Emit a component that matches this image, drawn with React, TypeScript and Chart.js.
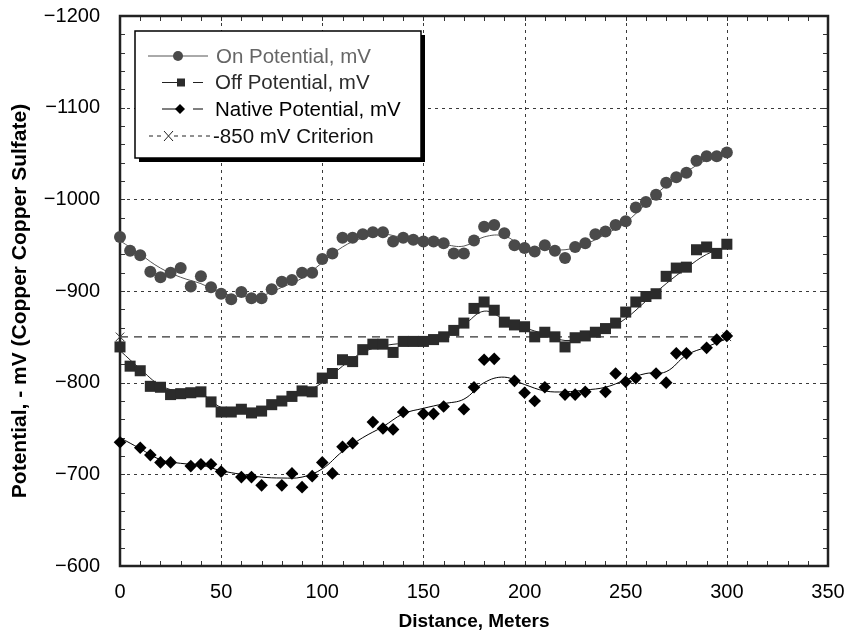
import React, { useEffect, useRef } from 'react';
import { Chart, registerables } from 'chart.js';

Chart.register(...registerables);

// ---------- data ----------
const distances = [0, 5, 10, 15, 20, 25, 30, 35, 40, 45, 50, 55, 60, 65, 70, 75, 80, 85, 90, 95, 100, 105, 110, 115, 120, 125, 130, 135, 140, 145, 150, 155, 160, 165, 170, 175, 180, 185, 190, 195, 200, 205, 210, 215, 220, 225, 230, 235, 240, 245, 250, 255, 260, 265, 270, 275, 280, 285, 290, 295, 300];

const onPotential = [-959, -944, -939, -921, -915, -920, -925, -905, -916, -904, -897, -891, -899, -892, -892, -902, -910, -912, -920, -920, -935, -941, -958, -958, -962, -964, -964, -954, -958, -956, -954, -954, -952, -941, -941, -955, -970, -972, -963, -950, -947, -943, -950, -944, -936, -948, -952, -962, -965, -972, -976, -991, -997, -1005, -1018, -1024, -1029, -1042, -1047, -1047, -1051];

const offPotential = [-839, -818, -813, -796, -795, -787, -788, -789, -790, -779, -768, -768, -771, -767, -769, -776, -780, -785, -791, -790, -805, -810, -825, -823, -836, -842, -842, -833, -845, -845, -845, -847, -850, -857, -865, -881, -888, -879, -866, -863, -861, -850, -855, -850, -839, -849, -851, -855, -859, -865, -877, -888, -894, -897, -916, -925, -926, -945, -948, -941, -951];

const nativeDistances = [0, 10, 15, 20, 25, 35, 40, 45, 50, 60, 65, 70, 80, 85, 90, 95, 100, 105, 110, 115, 125, 130, 135, 140, 150, 155, 160, 170, 175, 180, 185, 195, 200, 205, 210, 220, 225, 230, 240, 245, 250, 255, 265, 270, 275, 280, 290, 295, 300];
const nativePotential = [-735, -729, -721, -713, -713, -709, -711, -711, -703, -697, -697, -688, -688, -701, -686, -698, -713, -701, -730, -734, -757, -750, -749, -768, -766, -766, -774, -771, -795, -825, -826, -802, -789, -780, -795, -787, -787, -790, -790, -810, -801, -805, -810, -800, -832, -832, -838, -847, -851];

const trendDistances = [0, 10, 20, 30, 40, 50, 60, 70, 80, 90, 100, 110, 120, 130, 140, 150, 160, 170, 180, 190, 200, 210, 220, 230, 240, 250, 260, 270, 280, 290, 300];
const onTrend = [-955, -940, -925, -915, -908, -898, -894, -895, -904, -914, -931, -948, -958, -962, -958, -955, -951, -949, -959, -960, -948, -946, -945, -951, -962, -975, -995, -1015, -1030, -1043, -1050];
const offTrend = [-835, -815, -797, -790, -788, -773, -770, -769, -779, -788, -800, -818, -833, -840, -843, -845, -850, -863, -878, -869, -860, -853, -846, -850, -857, -870, -889, -908, -925, -940, -948];
const nativeTrend = [-740, -728, -716, -712, -710, -704, -700, -697, -696, -697, -706, -725, -740, -752, -766, -772, -777, -782, -800, -806, -798, -791, -790, -792, -795, -803, -810, -812, -830, -839, -848];

const criterionDistances = [0, 300];
const criterionPotential = [-850, -850];

const xTickValues = [0, 50, 100, 150, 200, 250, 300, 350];
const yTickValues = [-1200, -1100, -1000, -900, -800, -700, -600];

const legendLabels = ['On Potential, mV', 'Off Potential, mV', 'Native Potential, mV', '-850 mV Criterion'];
const xTitle = 'Distance, Meters';
const yTitle = 'Potential, - mV (Copper Copper Sulfate)';

const FONT = '"Liberation Sans", Arial, Helvetica, sans-serif';

const pairs = (xs: number[], ys: number[]) => xs.map((x, i) => ({ x, y: ys[i] }));

const framePlugin = {
  id: 'frameAndGrid',
  beforeDatasetsDraw(chart: any) {
    const { ctx, chartArea: a, scales } = chart;
    const xs = scales.x;
    const ys = scales.y;
    ctx.save();
    // dotted grid
    ctx.strokeStyle = '#3a3a3a';
    ctx.lineWidth = 1;
    ctx.setLineDash([3, 4]);
    xTickValues.slice(1, -1).forEach((v) => {
      const px = Math.round(xs.getPixelForValue(v)) + 0.5;
      ctx.beginPath();
      ctx.moveTo(px, a.top);
      ctx.lineTo(px, a.bottom);
      ctx.stroke();
    });
    yTickValues.slice(1, -1).forEach((v) => {
      const py = Math.round(ys.getPixelForValue(v)) + 0.5;
      ctx.beginPath();
      ctx.moveTo(a.left, py);
      ctx.lineTo(a.right, py);
      ctx.stroke();
    });
    ctx.setLineDash([]);
    // minor ticks
    ctx.strokeStyle = '#333';
    for (let v = 10; v < 350; v += 10) {
      const px = Math.round(xs.getPixelForValue(v)) + 0.5;
      ctx.beginPath();
      ctx.moveTo(px, a.bottom);
      ctx.lineTo(px, a.bottom - 5);
      ctx.moveTo(px, a.top);
      ctx.lineTo(px, a.top + 5);
      ctx.stroke();
    }
    for (let v = -1180; v < -600; v += 20) {
      const py = Math.round(ys.getPixelForValue(v)) + 0.5;
      ctx.beginPath();
      ctx.moveTo(a.left, py);
      ctx.lineTo(a.left + 5, py);
      ctx.moveTo(a.right, py);
      ctx.lineTo(a.right - 5, py);
      ctx.stroke();
    }
    // frame
    ctx.strokeStyle = '#222';
    ctx.lineWidth = 2.5;
    ctx.strokeRect(a.left, a.top, a.right - a.left, a.bottom - a.top);
    ctx.restore();
  },
};

const legendPlugin = {
  id: 'customLegend',
  afterDraw(chart: any) {
    const { ctx } = chart;
    // y axis title
    ctx.save();
    ctx.translate(20, 301);
    ctx.rotate(-Math.PI / 2);
    ctx.font = `bold 21px ${FONT}`;
    ctx.fillStyle = '#000';
    ctx.textAlign = 'center';
    ctx.textBaseline = 'middle';
    ctx.fillText(yTitle, 0, 0);
    ctx.restore();

    const bx = 135, by = 31, bw = 286, bh = 127;
    ctx.save();
    ctx.fillStyle = '#000';
    ctx.fillRect(bx + 4, by + 4, bw, bh);
    ctx.fillStyle = '#fff';
    ctx.fillRect(bx, by, bw, bh);
    ctx.strokeStyle = '#000';
    ctx.lineWidth = 1.5;
    ctx.strokeRect(bx, by, bw, bh);

    const rows = [56, 82.5, 109, 136];
    const colors = ['#666', '#2b2b2b', '#000', '#111'];
    ctx.font = `20.5px ${FONT}`;
    ctx.textBaseline = 'middle';
    ctx.textAlign = 'left';
    legendLabels.forEach((t, i) => {
      ctx.fillStyle = colors[i];
      ctx.fillText(t, i === 0 ? 216 : i === 3 ? 213 : 215, rows[i] + 1);
    });

    ctx.lineWidth = 1;
    // On
    let y = rows[0];
    ctx.strokeStyle = '#555';
    ctx.beginPath(); ctx.moveTo(148, y); ctx.lineTo(208, y); ctx.stroke();
    ctx.fillStyle = '#4a4a4a';
    ctx.beginPath(); ctx.arc(178, y, 5, 0, Math.PI * 2); ctx.fill();
    // Off
    y = rows[1];
    ctx.strokeStyle = '#222';
    ctx.beginPath(); ctx.moveTo(162, y); ctx.lineTo(177, y); ctx.moveTo(193, y); ctx.lineTo(203, y); ctx.stroke();
    ctx.fillStyle = '#2b2b2b';
    ctx.fillRect(177, y - 4, 8, 8);
    // Native
    y = rows[2];
    ctx.strokeStyle = '#000';
    ctx.beginPath(); ctx.moveTo(162, y); ctx.lineTo(176, y); ctx.moveTo(193, y); ctx.lineTo(203, y); ctx.stroke();
    ctx.fillStyle = '#000';
    ctx.beginPath(); ctx.moveTo(180, y - 5); ctx.lineTo(185, y); ctx.lineTo(180, y + 5); ctx.lineTo(175, y); ctx.closePath(); ctx.fill();
    // Criterion
    y = rows[3];
    ctx.strokeStyle = '#222';
    ctx.setLineDash([4, 4]);
    ctx.beginPath(); ctx.moveTo(149, y); ctx.lineTo(163, y); ctx.moveTo(174, y); ctx.lineTo(210, y); ctx.stroke();
    ctx.setLineDash([]);
    ctx.beginPath();
    ctx.moveTo(164, y - 5); ctx.lineTo(173, y + 5);
    ctx.moveTo(173, y - 5); ctx.lineTo(164, y + 5);
    ctx.stroke();
    ctx.restore();
  },
};

export default function App() {
  const canvasRef = useRef<HTMLCanvasElement | null>(null);

  useEffect(() => {
    if (!canvasRef.current) return;
    const chart = new Chart(canvasRef.current, {
      type: 'scatter',
      data: {
        datasets: [
          {
            label: 'On trend',
            data: pairs(trendDistances, onTrend),
            showLine: true,
            pointRadius: 0,
            borderColor: '#555',
            borderWidth: 1,
            tension: 0.4,
            order: 8,
          },
          {
            label: 'Off trend',
            data: pairs(trendDistances, offTrend),
            showLine: true,
            pointRadius: 0,
            borderColor: '#222',
            borderWidth: 1,
            tension: 0.4,
            order: 7,
          },
          {
            label: 'Native trend',
            data: pairs(trendDistances, nativeTrend),
            showLine: true,
            pointRadius: 0,
            borderColor: '#000',
            borderWidth: 1,
            tension: 0.4,
            order: 6,
          },
          {
            label: legendLabels[3],
            data: pairs(criterionDistances, criterionPotential),
            showLine: true,
            borderColor: '#333',
            borderWidth: 1.3,
            borderDash: [8, 6],
            pointStyle: 'crossRot',
            pointRadius: 6,
            pointBorderColor: '#333',
            pointBorderWidth: 1,
            order: 5,
            clip: false,
          },
          {
            label: legendLabels[0],
            data: pairs(distances, onPotential),
            showLine: false,
            pointStyle: 'circle',
            pointRadius: 6,
            pointBackgroundColor: '#4a4a4a',
            pointBorderColor: '#4a4a4a',
            pointBorderWidth: 0,
            order: 3,
            clip: false,
          },
          {
            label: legendLabels[1],
            data: pairs(distances, offPotential),
            showLine: false,
            pointStyle: 'rect',
            pointRadius: 7.8,
            pointBackgroundColor: '#2b2b2b',
            pointBorderColor: '#2b2b2b',
            pointBorderWidth: 0,
            order: 2,
            clip: false,
          },
          {
            label: legendLabels[2],
            data: pairs(nativeDistances, nativePotential),
            showLine: false,
            pointStyle: 'rectRot',
            pointRadius: 6.3,
            pointBackgroundColor: '#000',
            pointBorderColor: '#000',
            pointBorderWidth: 0,
            order: 1,
            clip: false,
          },
        ],
      },
      options: {
        animation: false,
        responsive: true,
        maintainAspectRatio: false,
        layout: { padding: { top: 16, right: 17, left: 0, bottom: 0 } },
        plugins: { legend: { display: false }, tooltip: { enabled: false } },
        scales: {
          x: {
            type: 'linear',
            min: 0,
            max: 350,
            afterFit: (s: any) => {
              s.height = 70;
              s.paddingLeft = 0;
              s.paddingRight = 0;
            },
            afterBuildTicks: (s: any) => { s.ticks = xTickValues.map((v) => ({ value: v })); },
            grid: { display: false, drawTicks: false },
            border: { display: false },
            ticks: {
              padding: 14,
              color: '#000',
              font: { family: FONT, size: 20 },
              autoSkip: false,
              maxRotation: 0,
              callback: (v: any) => String(v),
            },
            title: {
              display: true,
              text: xTitle,
              color: '#000',
              font: { family: FONT, size: 19, weight: 'bold' },
              padding: { top: 0, bottom: 3 },
            },
          },
          y: {
            type: 'linear',
            min: -1200,
            max: -600,
            reverse: true,
            afterFit: (s: any) => {
              s.width = 120;
              s.paddingTop = 0;
              s.paddingBottom = 0;
            },
            afterBuildTicks: (s: any) => { s.ticks = yTickValues.map((v) => ({ value: v })); },
            grid: { display: false, drawTicks: false },
            border: { display: false },
            ticks: {
              padding: 20,
              color: '#000',
              font: { family: FONT, size: 20 },
              callback: (v: any) => (Number(v) < 0 ? '\u2212' + Math.abs(Number(v)) : String(v)),
            },
            title: { display: false },
          },
        },
      },
      plugins: [framePlugin, legendPlugin],
    } as any);
    return () => chart.destroy();
  }, []);

  return (
    <div style={{ position: 'fixed', left: 0, top: 0, width: 845, height: 636, background: '#fff' }}>
      <canvas ref={canvasRef} />
    </div>
  );
}
